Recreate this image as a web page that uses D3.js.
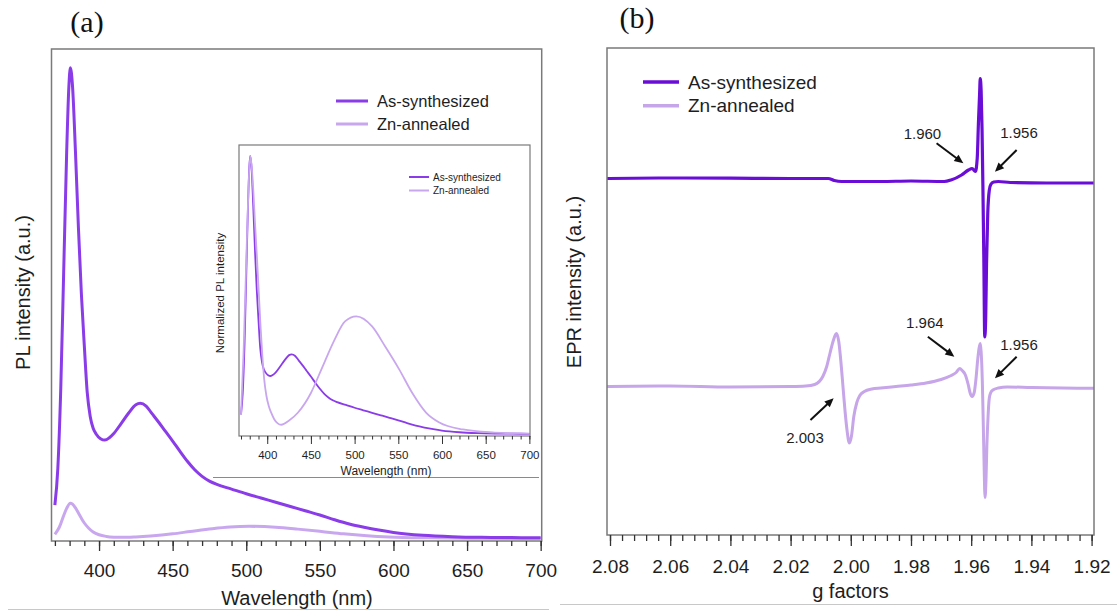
<!DOCTYPE html>
<html><head><meta charset="utf-8">
<script src="https://cdn.jsdelivr.net/npm/d3@7"></script>
<style>
body{margin:0;background:#fff}
svg{display:block}
</style>
</head><body>
<svg id="c" width="1117" height="610"></svg>
<script>
// ---------------- DATA ----------------
const seriesNames = ["As-synthesized", "Zn-annealed"];

// (a) PL spectra (a.u.)
const plWavelengthAs = [370,372,374,376,378,379.5,380.5,382,384,386,388,390,392,394,396,398,401,404,407,410,415,420,425,428,432,436,440,445,450,455,460,465,470,475,480,490,500,510,520,530,540,550,560,570,580,590,600,620,640,660,680,700];
const plAs = [7.2,15,32,57,82,96,100,96,82,66,52,41,31,26,23.5,22.3,21.3,21.0,21.5,22.4,24.5,26.7,28.5,28.8,28.2,26.6,25.0,22.9,20.8,18.6,16.5,14.7,13.3,12.3,11.6,10.6,9.6,8.7,7.8,6.9,6.0,5.1,4.1,3.2,2.5,1.9,1.4,0.8,0.5,0.35,0.3,0.25];

const plWavelengthZn = [370,373,376,378,380.5,382,384,386,388,390,393,396,400,405,410,416,425,435,450,462,477,489,502,520,535,551,566,582,597,624,660,700];
const plZn = [1.0,2.5,5.0,6.5,7.6,7.4,6.6,5.5,4.4,3.4,2.3,1.5,0.9,0.55,0.4,0.35,0.45,0.65,1.1,1.6,2.2,2.55,2.7,2.5,2.1,1.6,1.1,0.7,0.45,0.25,0.15,0.1];

// inset: normalized PL
const insetWavelengthZn = [370,373,376,378,380.5,382,384,386,388.5,390.5,392.5,394.5,396.5,399,402,405,408,412,416,425,435,450,462,477,489,502,520,535,551,566,582,597,624,660,700];
const insetZn = [0.07,0.3,0.62,0.83,1.0,0.97,0.88,0.76,0.62,0.50,0.38,0.28,0.2,0.14,0.1,0.075,0.055,0.04,0.035,0.05,0.078,0.149,0.234,0.34,0.406,0.424,0.388,0.316,0.234,0.149,0.078,0.043,0.018,0.007,0.003];

const wlMajorTicks = [400,450,500,550,600,650,700];

// (b) EPR spectra (a.u., relative to each trace's baseline)
const eprG_As = [2.081,2.06,2.04,2.02,2.0075,2.0055,2.003,1.99,1.98,1.969,1.9667,1.9632,1.9609,1.9597,1.9586,1.958,1.9576,1.9572,1.957,1.9567,1.9564,1.9561,1.9558,1.9555,1.9552,1.9549,1.9545,1.954,1.9535,1.9525,1.951,1.947,1.935,1.9192];
const eprAs = [0,0.005,0.003,0,0,-0.02,-0.03,-0.03,-0.025,-0.03,-0.015,0.035,0.085,0.10,0.07,0.2,0.55,0.85,1.0,0.88,0.5,-0.1,-0.8,-1.585,-1.42,-0.85,-0.35,-0.12,-0.06,-0.035,-0.03,-0.04,-0.045,-0.045];

const eprG_Zn = [2.081,2.06,2.04,2.02,2.015,2.012,2.0093,2.008,2.0069,2.0058,2.0048,2.004,2.0033,2.0026,2.0019,2.0012,2.0005,1.9998,1.999,1.998,1.997,1.9955,1.993,1.99,1.985,1.98,1.975,1.97,1.967,1.965,1.9638,1.963,1.962,1.961,1.9603,1.9597,1.959,1.9584,1.9578,1.9574,1.957,1.9567,1.9563,1.956,1.9557,1.9554,1.9551,1.9548,1.9544,1.954,1.9535,1.9528,1.951,1.948,1.94,1.9192];
const eprZn = [0,0.005,-0.005,0,0.005,0.02,0.10,0.20,0.335,0.46,0.53,0.45,0.25,0,-0.25,-0.45,-0.565,-0.50,-0.30,-0.16,-0.09,-0.05,-0.025,-0.015,0,0.015,0.035,0.07,0.105,0.14,0.18,0.16,0.12,0.02,-0.07,-0.10,-0.06,0.08,0.28,0.38,0.43,0.35,0.05,-0.35,-0.8,-1.11,-0.95,-0.6,-0.3,-0.12,-0.06,-0.035,-0.015,-0.005,-0.01,-0.018];

const eprOffsets = [2.08, 0];   // vertical stacking offsets (a.u.)
const gMajorTicks = [2.08,2.06,2.04,2.02,2.00,1.98,1.96,1.94,1.92];

const eprAnnotations = [
  {label:"1.960", labelG:1.9762, labelV:2.532, tailG:1.9715, tailV:2.432, tipG:1.9626, tipV:2.232},
  {label:"1.956", labelG:1.9441, labelV:2.535, tailG:1.9449, tailV:2.365, tipG:1.9521, tipV:2.148},
  {label:"1.964", labelG:1.9754, labelV:0.635, tailG:1.9744, tailV:0.498, tipG:1.9656, tipV:0.298},
  {label:"1.956", labelG:1.9441, labelV:0.415, tailG:1.9449, tailV:0.298, tipG:1.9521, tipV:0.082},
  {label:"2.003", labelG:2.0152, labelV:-0.515, tailG:2.0134, tailV:-0.335, tipG:2.0057, tipV:-0.118}
];

// ---------------- STYLE ----------------
const SANS = '"Liberation Sans",Arial,Helvetica,sans-serif';
const SERIF = '"Liberation Serif","Times New Roman",Times,serif';
const colA = ["#8a3ce8", "#c9a7ee"];
const colB = ["#6a0dd6", "#c7a5e9"];
const frameCol = "#7a7a7a";
const tickCol = "#333";
const textCol = "#1e1e1e";

const svg = d3.select("#c");
svg.append("rect").attr("width",1117).attr("height",610).attr("fill","#fff");

function zip(xs, ys){ return xs.map((x,i)=>[x, ys[i]]); }
function txt(g, x, y, s, fs, anchor){
  return g.append("text").attr("x",x).attr("y",y).attr("dy","0.35em")
    .attr("text-anchor",anchor||"start").style("font-family",SANS).style("font-size",fs+"px")
    .attr("fill",textCol).text(s);
}
function styleAxis(g, fs, tw){
  g.select(".domain").remove();
  g.selectAll(".tick line").attr("stroke", tickCol).attr("stroke-width", tw||1.3);
  g.selectAll(".tick text").style("font-size", fs+"px").attr("fill",textCol).style("font-family", SANS);
}

// page artifact lines
svg.append("line").attr("x1",8).attr("x2",549).attr("y1",609.5).attr("y2",609.5).attr("stroke","#c8c8c8").attr("stroke-width",1);
svg.append("line").attr("x1",560).attr("x2",1117).attr("y1",604.5).attr("y2",604.5).attr("stroke","#c8c8c8").attr("stroke-width",1);

// ================= PANEL (a) =================
const xA = d3.scaleLinear().domain([367.7, 700.7]).range([51.5, 541.7]);
const yA = d3.scaleLinear().domain([-0.42, 104]).range([541, 49]);

const gA = svg.append("g");
const lineA = d3.line().x(d=>xA(d[0])).y(d=>yA(d[1])).curve(d3.curveMonotoneX);
gA.append("path").datum(zip(plWavelengthZn, plZn)).attr("d", lineA)
  .attr("fill","none").attr("stroke", colA[1]).attr("stroke-width",3).attr("stroke-linejoin","round");
gA.append("path").datum(zip(plWavelengthAs, plAs)).attr("d", lineA)
  .attr("fill","none").attr("stroke", colA[0]).attr("stroke-width",3).attr("stroke-linejoin","round");

gA.append("rect").attr("x",51.5).attr("y",49).attr("width",541.7-51.5).attr("height",541-49)
  .attr("fill","none").attr("stroke",frameCol).attr("stroke-width",1.5);

gA.append("g").attr("transform","translate(0,541)")
  .call(d3.axisBottom(xA).tickValues(d3.range(370, 701, 10)).tickSize(5).tickFormat(""))
  .call(g=>styleAxis(g,19));
gA.append("g").attr("transform","translate(0,541)")
  .call(d3.axisBottom(xA).tickValues(wlMajorTicks).tickSize(10).tickPadding(13).tickFormat(d3.format("d")))
  .call(g=>styleAxis(g,19));

txt(gA, 297, 598, "Wavelength (nm)", 20, "middle");
gA.append("text").attr("transform","translate(23,292.5) rotate(-90)").attr("dy","0.35em")
  .attr("text-anchor","middle").style("font-family",SANS).style("font-size","20px").attr("fill",textCol)
  .text("PL intensity (a.u.)");
svg.append("text").attr("x",87).attr("y",31.5).attr("text-anchor","middle")
  .style("font-family",SERIF).style("font-size","30px").attr("fill","#111").text("(a)");

// legend (a)
seriesNames.forEach((n,i)=>{
  const y = 101 + i*23;
  gA.append("line").attr("x1",336).attr("x2",368).attr("y1",y).attr("y2",y).attr("stroke",colA[i]).attr("stroke-width",3);
  txt(gA, 377, y, n, 16.5);
});

// ---------- inset ----------
const xI = d3.scaleLinear().domain([367.7, 700.7]).range([239, 530]);
const yI = d3.scaleLinear().domain([-0.0054, 1.0395]).range([436, 145]);
const gI = svg.append("g");
gI.append("line").attr("x1",213).attr("x2",539).attr("y1",477.5).attr("y2",477.5).attr("stroke","#8a8a8a").attr("stroke-width",1);
gI.append("rect").attr("x",239).attr("y",145).attr("width",291).attr("height",291).attr("fill","#fff");
const maxAs = d3.max(plAs);
const lineI = d3.line().x(d=>xI(d[0])).y(d=>yI(d[1])).curve(d3.curveMonotoneX);
gI.append("path").datum(zip(plWavelengthAs, plAs.map(v=>v/maxAs))).attr("d", lineI)
  .attr("fill","none").attr("stroke", colA[0]).attr("stroke-width",1.8);
gI.append("path").datum(zip(insetWavelengthZn, insetZn)).attr("d", lineI)
  .attr("fill","none").attr("stroke", colA[1]).attr("stroke-width",1.8);
gI.append("rect").attr("x",239).attr("y",145).attr("width",291).attr("height",291)
  .attr("fill","none").attr("stroke",frameCol).attr("stroke-width",1.2);
gI.append("g").attr("transform","translate(0,436)")
  .call(d3.axisBottom(xI).tickValues(d3.range(370, 701, 10)).tickSize(3.5).tickFormat(""))
  .call(g=>styleAxis(g,11.5,1));
gI.append("g").attr("transform","translate(0,436)")
  .call(d3.axisBottom(xI).tickValues(wlMajorTicks).tickSize(8).tickPadding(7).tickFormat(d3.format("d")))
  .call(g=>styleAxis(g,11.5,1));
txt(gI, 386, 471, "Wavelength (nm)", 12, "middle");
gI.append("text").attr("transform","translate(220,293) rotate(-90)").attr("dy","0.35em")
  .attr("text-anchor","middle").style("font-family",SANS).style("font-size","11.5px").attr("fill",textCol)
  .text("Normalized PL intensity");
seriesNames.forEach((n,i)=>{
  const y = 177 + i*13.5;
  gI.append("line").attr("x1",409).attr("x2",429).attr("y1",y).attr("y2",y).attr("stroke",colA[i]).attr("stroke-width",2);
  txt(gI, 433, y, n, 10);
});

// ================= PANEL (b) =================
const xB = d3.scaleLinear().domain([2.081, 1.9192]).range([607, 1094]);
const yB = d3.scaleLinear().domain([-1.485, 3.385]).range([535, 48]);
const gB = svg.append("g");
const lineB = off => d3.line().x(d=>xB(d[0])).y(d=>yB(d[1]+off)).curve(d3.curveMonotoneX);

gB.append("path").datum(zip(eprG_Zn, eprZn)).attr("d", lineB(eprOffsets[1]))
  .attr("fill","none").attr("stroke", colB[1]).attr("stroke-width",3).attr("stroke-linejoin","round");
gB.append("path").datum(zip(eprG_As, eprAs)).attr("d", lineB(eprOffsets[0]))
  .attr("fill","none").attr("stroke", colB[0]).attr("stroke-width",3.2).attr("stroke-linejoin","round");

gB.append("rect").attr("x",607).attr("y",48).attr("width",1094-607).attr("height",535-48)
  .attr("fill","none").attr("stroke",frameCol).attr("stroke-width",1.5);

gB.append("g").attr("transform","translate(0,535)")
  .call(d3.axisBottom(xB).tickValues(d3.range(0,41).map(i=>+(2.08 - i*0.004).toFixed(3))).tickSize(6).tickFormat(""))
  .call(g=>styleAxis(g,19));
gB.append("g").attr("transform","translate(0,535)")
  .call(d3.axisBottom(xB).tickValues(gMajorTicks).tickSize(11).tickPadding(13.5).tickFormat(d3.format(".2f")))
  .call(g=>styleAxis(g,19));

txt(gB, 850.5, 591, "g factors", 20, "middle");
gB.append("text").attr("transform","translate(574,282) rotate(-90)").attr("dy","0.35em")
  .attr("text-anchor","middle").style("font-family",SANS).style("font-size","20px").attr("fill",textCol)
  .text("EPR intensity (a.u.)");
svg.append("text").attr("x",637).attr("y",28).attr("text-anchor","middle")
  .style("font-family",SERIF).style("font-size","30px").attr("fill","#111").text("(b)");

seriesNames.forEach((n,i)=>{
  const y = 82 + i*23.7;
  gB.append("line").attr("x1",643).attr("x2",679).attr("y1",y).attr("y2",y).attr("stroke",colB[i]).attr("stroke-width",3.5);
  txt(gB, 688, y, n, 19);
});

// annotations with arrows
eprAnnotations.forEach(a=>{
  const x0 = xB(a.tailG), y0 = yB(a.tailV), x1 = xB(a.tipG), y1 = yB(a.tipV);
  const dx = x1-x0, dy = y1-y0, L = Math.hypot(dx,dy), ux = dx/L, uy = dy/L;
  const hl = 9, hw = 4;
  const bx = x1 - ux*hl, by = y1 - uy*hl;
  gB.append("line").attr("x1",x0).attr("y1",y0).attr("x2",bx+ux).attr("y2",by+uy)
    .attr("stroke","#111").attr("stroke-width",2);
  gB.append("path").attr("d",`M${x1},${y1}L${bx - uy*hw},${by + ux*hw}L${bx + uy*hw},${by - ux*hw}Z`).attr("fill","#111");
  txt(gB, xB(a.labelG), yB(a.labelV), a.label, 15, "middle");
});
</script>
</body></html>
